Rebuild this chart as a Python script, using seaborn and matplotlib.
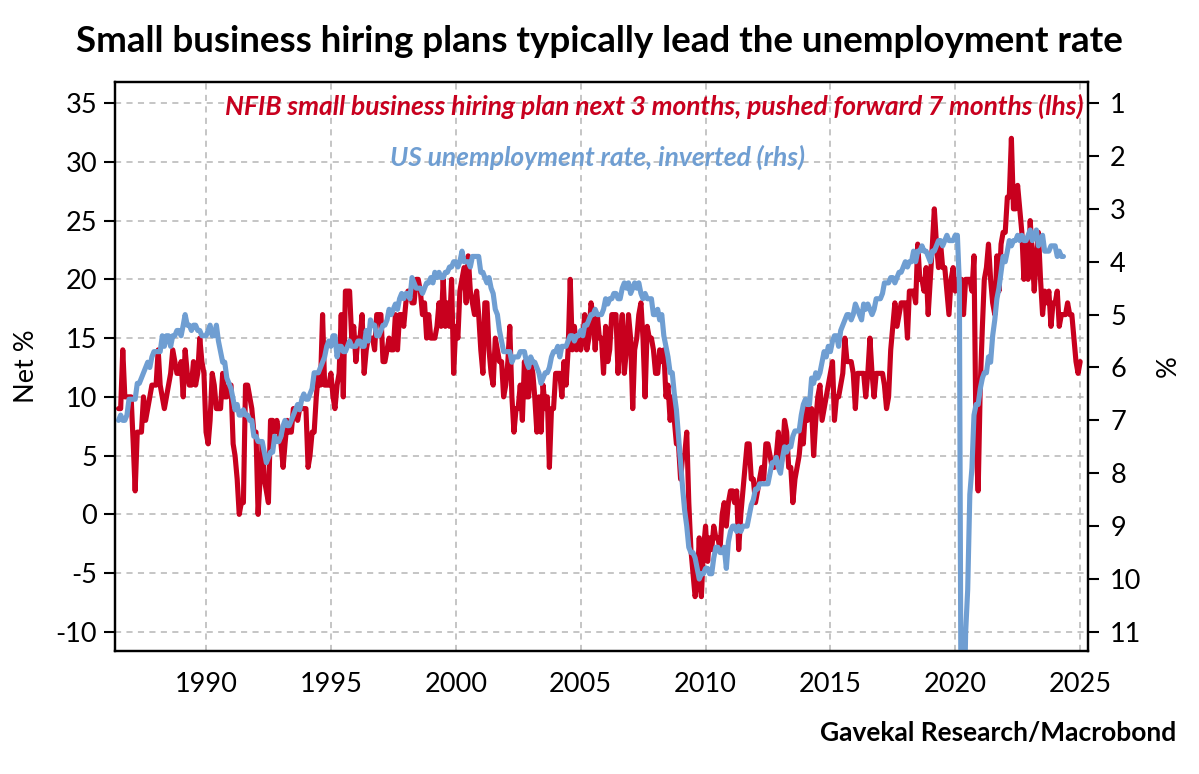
import pandas as pd
import matplotlib
matplotlib.use("Agg")
import matplotlib.pyplot as plt
import matplotlib.dates as mdates
import seaborn as sns

# NFIB: net % of small firms planning to add jobs over the next 3 months (monthly)
nfib_start = "1985-12"
lead_months = 7
nfib_hiring = [
    9, 9, 14, 10, 10, 10,
    10, 6, 2, 7, 7, 7, 10, 8, 9, 10, 11, 11,
    11, 14, 11, 10, 9, 10, 11, 12, 14, 13, 12, 12,
    13, 10, 14, 12, 11, 11, 13, 11, 12, 15, 13, 12,
    7, 6, 8, 12, 11, 9, 9, 9, 12, 10, 10, 11,
    11, 6, 5, 3, 0, 1, 1, 11, 11, 10, 9, 7,
    7, 0, 3, 6, 3, 2, 1, 8, 8, 7, 8, 7,
    6, 4, 6, 8, 7, 7, 9, 9, 8, 9, 9, 9,
    9, 4, 5, 7, 7, 10, 12, 11, 17, 11, 11, 11,
    12, 10, 9, 11, 12, 17, 10, 19, 19, 19, 15, 16,
    13, 15, 15, 17, 12, 14, 15, 15, 15, 14, 17, 17,
    17, 13, 13, 14, 15, 14, 14, 17, 14, 17, 17, 16,
    18, 19, 19, 18, 18, 20, 20, 19, 17, 18, 15, 17,
    15, 15, 15, 16, 18, 16, 20, 16, 18, 16, 20, 12,
    16, 15, 19, 20, 21, 18, 22, 19, 18, 17, 19, 17,
    14, 12, 18, 18, 14, 12, 11, 15, 14, 13, 13, 10,
    11, 13, 16, 10, 7, 9, 9, 11, 8, 13, 10, 10,
    13, 12, 10, 7, 10, 7, 11, 9, 10, 4, 9, 9,
    12, 12, 12, 10, 13, 11, 14, 20, 14, 16, 14, 15,
    14, 15, 17, 14, 15, 18, 17, 14, 17, 15, 15, 12,
    16, 13, 14, 17, 17, 17, 12, 15, 17, 12, 14, 17,
    15, 9, 14, 15, 17, 18, 15, 10, 16, 15, 15, 14,
    12, 12, 14, 13, 14, 10, 11, 8, 10, 8, 6, 6,
    3, 5, 5, 7, 1, -3, -5, -7, -6, -2, -7, -3,
    -1, -4, -2, -3, -1, -2, -2, -3, 0, 1, -1, 1,
    2, 2, 1, 2, -3, 0, 2, 4, 6, 6, 3, 3,
    1, 2, 3, 4, 3, 6, 6, 5, 4, 4, 5, 7,
    4, 5, 8, 7, 4, 4, 1, 3, 4, 5, 7, 6,
    9, 8, 9, 9, 5, 8, 10, 11, 8, 9, 10, 11,
    12, 13, 8, 10, 10, 11, 12, 15, 13, 13, 13, 12,
    9, 12, 12, 12, 12, 10, 12, 15, 12, 10, 12, 12,
    12, 12, 11, 9, 10, 14, 16, 18, 16, 17, 18, 18,
    18, 15, 19, 19, 19, 18, 23, 20, 20, 19, 21, 17,
    20, 23, 26, 23, 21, 23, 21, 21, 19, 17, 20, 21,
    19, 20, 20, 20, 17, 20, 20, 20, 19, 22, 6, 2,
    11, 16, 20, 21, 23, 20, 18, 17, 22, 19, 23, 24,
    24, 27, 27, 32, 26, 26, 28, 26, 24, 20, 23, 20,
    25, 22, 19, 22, 24, 20, 17, 19, 18, 19, 16, 18,
    18, 19, 16, 17, 17, 17, 18, 17, 17, 15, 13, 12,
    13,
]

# US unemployment rate, % (monthly)
unemp_start = "1986-07"
unemp_rate = [
    7.0, 6.9, 7.0, 7.0, 6.9, 6.6,
    6.6, 6.6, 6.6, 6.3, 6.3, 6.2, 6.1, 6.0, 5.9, 6.0, 5.8, 5.7,
    5.7, 5.7, 5.7, 5.4, 5.6, 5.4, 5.4, 5.6, 5.4, 5.4, 5.3, 5.3,
    5.4, 5.2, 5.0, 5.2, 5.2, 5.3, 5.2, 5.2, 5.3, 5.3, 5.4, 5.4,
    5.4, 5.3, 5.2, 5.4, 5.4, 5.2, 5.5, 5.7, 5.9, 5.9, 6.2, 6.3,
    6.4, 6.6, 6.8, 6.7, 6.9, 6.9, 6.8, 6.9, 6.9, 7.0, 7.0, 7.3,
    7.3, 7.4, 7.4, 7.4, 7.6, 7.8, 7.7, 7.6, 7.6, 7.3, 7.4, 7.4,
    7.3, 7.1, 7.0, 7.1, 7.1, 7.0, 6.9, 6.8, 6.7, 6.8, 6.6, 6.5,
    6.6, 6.6, 6.5, 6.4, 6.1, 6.1, 6.1, 6.0, 5.9, 5.8, 5.6, 5.5,
    5.6, 5.4, 5.4, 5.8, 5.6, 5.6, 5.7, 5.7, 5.6, 5.5, 5.6, 5.6,
    5.6, 5.5, 5.5, 5.6, 5.6, 5.3, 5.5, 5.1, 5.2, 5.2, 5.4, 5.4,
    5.3, 5.2, 5.2, 5.1, 4.9, 5.0, 4.9, 4.8, 4.9, 4.7, 4.6, 4.7,
    4.6, 4.6, 4.7, 4.3, 4.4, 4.5, 4.5, 4.5, 4.6, 4.5, 4.4, 4.4,
    4.3, 4.4, 4.2, 4.3, 4.2, 4.3, 4.3, 4.2, 4.2, 4.1, 4.1, 4.0,
    4.0, 4.1, 4.0, 3.8, 4.0, 4.0, 4.0, 4.1, 3.9, 3.9, 3.9, 3.9,
    4.2, 4.2, 4.3, 4.4, 4.3, 4.5, 4.6, 4.9, 5.0, 5.3, 5.5, 5.7,
    5.7, 5.7, 5.7, 5.9, 5.8, 5.8, 5.8, 5.7, 5.7, 5.7, 5.9, 6.0,
    5.8, 5.9, 5.9, 6.0, 6.1, 6.3, 6.2, 6.1, 6.1, 6.0, 5.8, 5.7,
    5.7, 5.6, 5.8, 5.6, 5.6, 5.6, 5.5, 5.4, 5.4, 5.5, 5.4, 5.4,
    5.3, 5.4, 5.2, 5.2, 5.1, 5.0, 5.0, 4.9, 5.0, 5.0, 5.0, 4.9,
    4.7, 4.8, 4.7, 4.7, 4.6, 4.6, 4.7, 4.7, 4.5, 4.4, 4.5, 4.4,
    4.6, 4.5, 4.4, 4.5, 4.4, 4.6, 4.7, 4.6, 4.7, 4.7, 4.7, 5.0,
    5.0, 4.9, 5.1, 5.0, 5.4, 5.6, 5.8, 6.1, 6.1, 6.5, 6.8, 7.3,
    7.8, 8.3, 8.7, 9.0, 9.4, 9.5, 9.5, 9.6, 9.8, 10.0, 9.9, 9.9,
    9.8, 9.8, 9.9, 9.9, 9.6, 9.4, 9.4, 9.5, 9.5, 9.4, 9.8, 9.3,
    9.1, 9.0, 9.0, 9.1, 9.0, 9.1, 9.0, 9.0, 9.0, 8.8, 8.6, 8.5,
    8.3, 8.3, 8.2, 8.2, 8.2, 8.2, 8.2, 8.0, 7.8, 7.8, 7.7, 7.9,
    8.0, 7.7, 7.5, 7.6, 7.5, 7.5, 7.3, 7.2, 7.2, 7.2, 6.9, 6.7,
    6.6, 6.7, 6.7, 6.2, 6.3, 6.1, 6.2, 6.1, 5.9, 5.7, 5.8, 5.6,
    5.7, 5.5, 5.4, 5.4, 5.6, 5.3, 5.2, 5.1, 5.0, 5.0, 5.1, 5.0,
    4.8, 4.9, 5.0, 5.1, 4.8, 4.9, 4.8, 4.9, 5.0, 4.9, 4.7, 4.7,
    4.7, 4.6, 4.4, 4.4, 4.4, 4.3, 4.3, 4.4, 4.3, 4.2, 4.2, 4.1,
    4.0, 4.1, 4.0, 4.0, 3.8, 4.0, 3.8, 3.8, 3.7, 3.8, 3.8, 3.9,
    4.0, 3.8, 3.8, 3.7, 3.6, 3.6, 3.7, 3.6, 3.5, 3.6, 3.6, 3.6,
    3.5, 3.5, 4.4, 14.8, 13.2, 11.0, 10.2, 8.4, 7.9, 6.9, 6.7, 6.7,
    6.4, 6.2, 6.1, 6.1, 5.8, 5.9, 5.4, 5.1, 4.7, 4.5, 4.2, 3.9,
    4.0, 3.8, 3.6, 3.7, 3.6, 3.6, 3.5, 3.6, 3.5, 3.6, 3.6, 3.5,
    3.4, 3.6, 3.5, 3.4, 3.7, 3.6, 3.5, 3.8, 3.8, 3.8, 3.7, 3.7,
    3.7, 3.9, 3.8, 3.9, 3.9,
]

red = "#c8001e"
blue = "#6f9ed2"

nfib = pd.DataFrame({
    "date": pd.date_range(nfib_start, periods=len(nfib_hiring), freq="MS") + pd.DateOffset(months=lead_months),
    "value": nfib_hiring,
})
unemp = pd.DataFrame({
    "date": pd.date_range(unemp_start, periods=len(unemp_rate), freq="MS"),
    "value": unemp_rate,
})

sns.set_style("white")
plt.rcParams["font.family"] = ["Lato", "DejaVu Sans"]
plt.rcParams["axes.unicode_minus"] = False
for key in ("text.color", "axes.labelcolor", "xtick.color", "ytick.color"):
    plt.rcParams[key] = "black"

fig = plt.figure(figsize=(11.99, 7.74), dpi=100)
ax = fig.add_axes([0.0959, 0.159, 0.8115, 0.735])
ax2 = ax.twinx()

sns.lineplot(data=nfib, x="date", y="value", ax=ax, color=red, lw=3.7)
sns.lineplot(data=unemp, x="date", y="value", ax=ax2, color=blue, lw=3.7)

# left axis: net %, right axis: unemployment inverted
ax.set_ylim(-11.62, 36.79)
ax2.set_ylim(1 + (35 + 11.62) / 4.5, 1 + (35 - 36.79) / 4.5)
ax.set_yticks(range(-10, 36, 5))
ax2.set_yticks(range(1, 12))
ax.set_xlim(pd.Timestamp("1986-05-10"), pd.Timestamp("2025-04-25"))
ax.xaxis.set_major_locator(mdates.YearLocator(5))
ax.xaxis.set_major_formatter(mdates.DateFormatter("%Y"))

ax.grid(True, color="#b5b5b5", linestyle=(0, (4, 3.5)), lw=1.1)
ax.set_axisbelow(True)
for a in (ax, ax2):
    for s in a.spines.values():
        s.set_color("black")
        s.set_linewidth(1.6)
ax.tick_params(axis="both", direction="out", length=8, width=1.5, labelsize=19.5, colors="black", pad=5)
ax.tick_params(axis="y", right=False)
ax.tick_params(axis="x", top=False, pad=7)
ax2.tick_params(axis="y", direction="out", length=8, width=1.5, labelsize=19.5, colors="black", pad=8)

ax.set_xlabel("")
ax.set_ylabel("Net %", fontsize=19.5, labelpad=12, color="black")
ax2.set_ylabel("%", fontsize=19.5, labelpad=10, color="black")

ax.text(0.995, 0.958, "NFIB small business hiring plan next 3 months, pushed forward 7 months (lhs)",
        transform=ax.transAxes, ha="right", va="center", color=red,
        fontsize=19, fontweight="bold", fontstyle="italic")
ax.text(0.283, 0.868, "US unemployment rate, inverted (rhs)",
        transform=ax.transAxes, ha="left", va="center", color=blue,
        fontsize=19, fontweight="bold", fontstyle="italic")

fig.text(0.5, 0.946, "Small business hiring plans typically lead the unemployment rate",
         ha="center", va="center", fontsize=26.5, fontweight="bold", color="black")
fig.text(0.981, 0.053, "Gavekal Research/Macrobond",
         ha="right", va="center", fontsize=19, fontweight="bold", color="black")

fig.savefig("out.png", dpi=100)
